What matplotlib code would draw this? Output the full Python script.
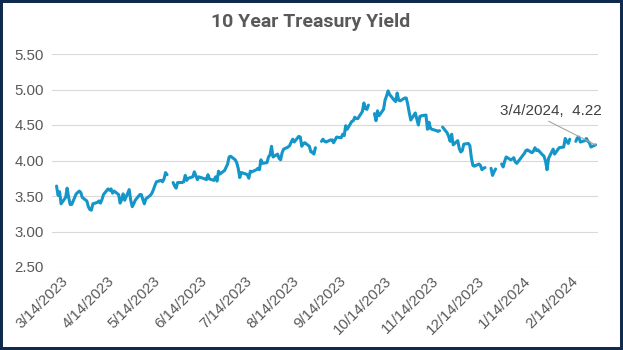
import numpy as np
import pandas as pd
import matplotlib
matplotlib.use("Agg")
import matplotlib.pyplot as plt
import matplotlib.dates as mdates
import matplotlib.transforms as mtransforms
from matplotlib.patches import Rectangle

nan = np.nan

# 10 year treasury yield, one value per weekday (nan = blank cell, market holiday)
mar23 = [3.64, 3.51, 3.56, 3.39, 3.48, 3.61, 3.48, 3.38, 3.38, 3.53, 3.55, 3.57, 3.55, 3.48]
apr23 = [3.43, 3.35, 3.31, 3.30, 3.39, 3.41, 3.43, 3.40, 3.45, 3.52, 3.60, 3.58, 3.60, 3.54,
         3.57, 3.52, 3.40, 3.45, 3.53, 3.44]
may23 = [3.59, 3.44, 3.35, 3.39, 3.44, 3.52, 3.52, 3.45, 3.39, 3.46, 3.51, 3.54, 3.59, 3.65,
         3.70, 3.72, 3.70, 3.74, 3.83, 3.80, nan, 3.69, 3.64]
jun23 = [3.61, 3.69, 3.69, 3.70, 3.79, 3.72, 3.75, 3.77, 3.84, 3.79, 3.73, 3.77, 3.74,
         3.73, 3.80, 3.74, 3.72, 3.77, 3.71, 3.85, 3.81]
jul23 = [3.86, 3.95, 4.05, 4.06, 4.01, 3.97, 3.89, 3.76, 3.83, 3.81, 3.80, 3.75, 3.85,
         3.84, 3.87, 3.89, 3.87, 4.01, 3.96, 3.97]
aug23 = [4.05, 4.08, 4.20, 4.05, 4.09, 4.03, 4.01, 4.11, 4.16, 4.19, 4.21, 4.26, 4.30, 4.26,
         4.34, 4.33, 4.20, 4.24, 4.25, 4.20, 4.12, 4.12, 4.09]
sep23 = [4.18, nan, 4.27, 4.30, 4.27, 4.26, 4.29, 4.29, 4.25, 4.29, 4.33, 4.32, 4.37, 4.35,
         4.49, 4.44, 4.55, 4.56, 4.61, 4.59, 4.59]
oct23 = [4.69, 4.81, 4.73, 4.72, 4.78, nan, 4.66, 4.56, 4.70, 4.63, 4.72, 4.85, 4.91, 4.98,
         4.93, 4.85, 4.83, 4.95, 4.85, 4.84, 4.88, 4.88]
nov23 = [4.79, 4.67, 4.57, 4.67, 4.58, 4.50, 4.62, 4.63, 4.64, 4.44, 4.54, 4.45, 4.44, 4.42,
         4.41, 4.42, nan, 4.47, 4.39, 4.34, 4.27, 4.37]
dec23 = [4.22, 4.28, 4.17, 4.12, 4.14, 4.23, 4.24, 4.21, 4.04, 3.93, 3.92, 3.95, 3.93, 3.87,
         3.89, 3.90, nan, 3.89, 3.79, 3.84, 3.88]
jan24 = [nan, 3.95, 3.91, 3.99, 4.05, 4.01, 4.02, 4.04, 3.98, 3.96, 4.07, 4.10, 4.14,
         4.15, 4.11, 4.13, 4.18, 4.14, 4.15, 4.08, 4.06, 3.99]
feb24 = [3.87, 4.03, 4.16, 4.09, 4.12, 4.15, 4.18, 4.19, 4.31, 4.27, 4.24, 4.30, nan, 4.27,
         4.32, 4.33, 4.26, 4.28, 4.31, 4.27, 4.25]
mar24 = [4.19, 4.22]

# weekdays that have no row at all in the sheet
missing_rows = ["2023-06-19", "2023-07-04", "2024-01-15"]

yields = mar23 + apr23 + may23 + jun23 + jul23 + aug23 + sep23 + oct23 + nov23 + dec23 + jan24 + feb24 + mar24
dates = pd.bdate_range("2023-03-14", "2024-03-04").drop(pd.to_datetime(missing_rows))

tick_labels = ["3/14/2023", "4/14/2023", "5/14/2023", "6/14/2023", "7/14/2023", "8/14/2023",
               "9/14/2023", "10/14/2023", "11/14/2023", "12/14/2023", "1/14/2024", "2/14/2024"]
y_ticks = [2.5, 3.0, 3.5, 4.0, 4.5, 5.0, 5.5]

grey = "#595959"
blue = "#1596c9"

fig = plt.figure(figsize=(6.23, 3.5), dpi=100)
ax = fig.add_axes([52 / 623, 1 - 267 / 350, 546 / 623, 213 / 350])

ax.plot(dates, yields, color=blue, lw=2.2, solid_capstyle="round", solid_joinstyle="round")

x0 = mdates.date2num(dates[0])
x1 = mdates.date2num(dates[-1])
ax.set_xlim(x0 - 3, x1 + 1.65)
ax.set_ylim(2.5, 5.5)

ax.set_yticks(y_ticks)
ax.set_yticklabels([f"{v:.2f}" for v in y_ticks])
ax.grid(axis="y", color="#d9d9d9", lw=0.8)
ax.set_axisbelow(True)
for s in ax.spines.values():
    s.set_visible(False)

tick_pos = [mdates.date2num(pd.Timestamp(t)) for t in tick_labels]
ax.set_xticks(tick_pos)
ax.set_xticklabels(tick_labels)
ax.tick_params(length=0, labelsize=10.8, labelcolor=grey)
ax.tick_params(axis="y", pad=6)
ax.tick_params(axis="x", pad=5)
shift = mtransforms.ScaledTranslation(4 / 100, 0, fig.dpi_scale_trans)
for lab in ax.get_xticklabels():
    lab.set_rotation(45)
    lab.set_ha("right")
    lab.set_rotation_mode("anchor")
    lab.set_fontfamily("Liberation Sans")
    lab.set_transform(lab.get_transform() + shift)
for lab in ax.get_yticklabels():
    lab.set_fontfamily("Liberation Sans")

ax.annotate("3/4/2024,  4.22", xy=(dates[-1], yields[-1]), xytext=(-32, 24.5),
            textcoords="offset points", ha="center", va="center", fontsize=11,
            color="#404040", family="Liberation Sans",
            arrowprops=dict(arrowstyle="-", color="#a6a6a6", lw=0.8, relpos=(0.41, 0),
                            shrinkA=1, shrinkB=0))

fig.text(311 / 623, 1 - 22 / 350, "10 Year Treasury Yield", ha="center", va="center",
         fontsize=14, fontweight="bold", color=grey, family="Roboto")

fig.add_artist(Rectangle((0, 0), 1, 1, transform=fig.transFigure, fill=False,
                         edgecolor="#0f2a4f", lw=4.3))

fig.savefig("out.png", dpi=100)
